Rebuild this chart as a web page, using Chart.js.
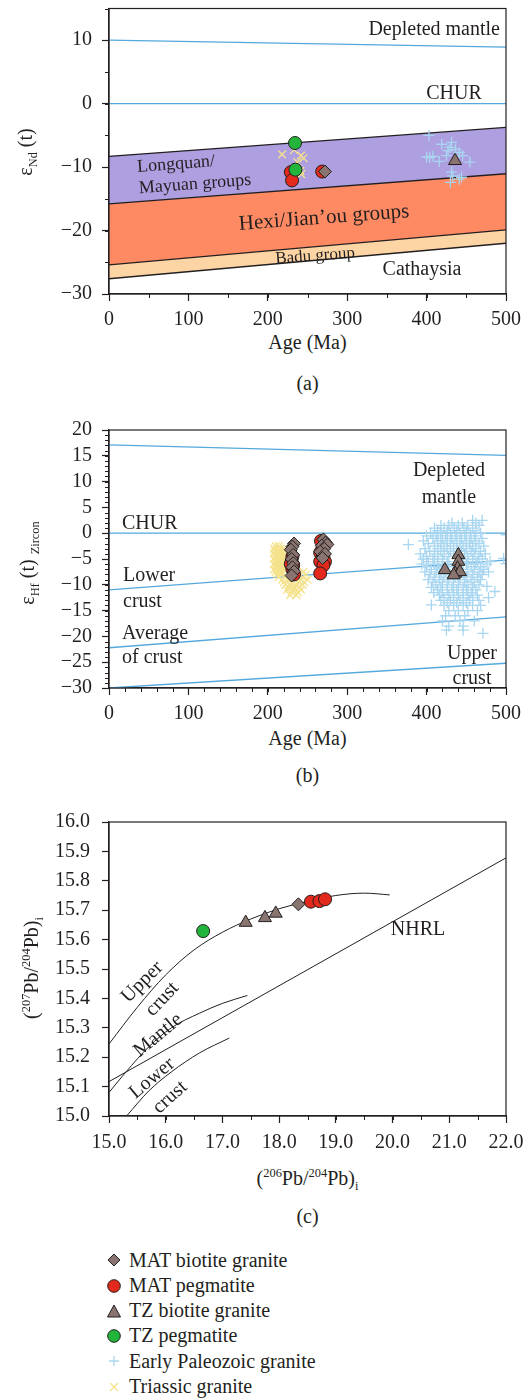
<!DOCTYPE html>
<html>
<head>
<meta charset="utf-8">
<script src="https://cdn.jsdelivr.net/npm/chart.js@4.4.1/dist/chart.umd.min.js"></script>
<style>
  body { margin: 0; background: #fff; }
  #page { position: relative; width: 526px; height: 1399px; overflow: hidden;
          font-family: "Liberation Serif", "Times New Roman", serif; color: #231f20; }
  canvas { position: absolute; left: 0; }
  .t { position: absolute; white-space: nowrap; font-size: 20px; line-height: 1; }
  .c { transform: translate(-50%, -50%); }
  .l { transform: translate(0, -50%); }
  .r { transform: translate(-100%, -50%); }
  sub, sup { font-size: 62%; line-height: 0; }
  .leg { position: absolute; left: 106px; height: 24px; display: flex; align-items: center;
         font-size: 20px; white-space: nowrap; }
  .leg svg { width: 16px; height: 16px; margin-right: 7px; }
</style>
</head>
<body>
<div id="page">
  <canvas id="chartA" width="526" height="330" style="top:0"></canvas>
  <canvas id="chartB" width="526" height="300" style="top:420px"></canvas>
  <canvas id="chartC" width="526" height="360" style="top:800px"></canvas>

  <!-- panel (a) -->
  <div class="t r" style="left:500px;top:28px">Depleted mantle</div>
  <div class="t c" style="left:454px;top:92px">CHUR</div>
  <div class="t c" style="left:176px;top:163px;font-size:18px;transform:translate(-50%,-50%) rotate(-4.3deg)">Longquan/</div>
  <div class="t c" style="left:195px;top:183px;font-size:18px;transform:translate(-50%,-50%) rotate(-4.3deg)">Mayuan groups</div>
  <div class="t c" style="left:324px;top:217px;font-size:21px;transform:translate(-50%,-50%) rotate(-4.3deg)">Hexi/Jian’ou groups</div>
  <div class="t c" style="left:315px;top:255px;font-size:17px;transform:translate(-50%,-50%) rotate(-4.3deg)">Badu group</div>
  <div class="t c" style="left:422px;top:268px">Cathaysia</div>
  <div class="t c" style="left:25px;top:152px;transform:translate(-50%,-50%) rotate(-90deg)">ε<sub>Nd</sub> (t)</div>
  <div class="t c" style="left:307.5px;top:342px">Age (Ma)</div>
  <div class="t c" style="left:307.5px;top:383px">(a)</div>

  <!-- panel (b) -->
  <div class="t c" style="left:449px;top:469px">Depleted</div>
  <div class="t c" style="left:449px;top:496px">mantle</div>
  <div class="t l" style="left:122px;top:522px">CHUR</div>
  <div class="t l" style="left:123px;top:574px">Lower</div>
  <div class="t l" style="left:123px;top:600px">crust</div>
  <div class="t l" style="left:122px;top:632px">Average</div>
  <div class="t l" style="left:122px;top:656px">of crust</div>
  <div class="t c" style="left:472px;top:652px">Upper</div>
  <div class="t c" style="left:472px;top:677px">crust</div>
  <div class="t c" style="left:27px;top:563px;transform:translate(-50%,-50%) rotate(-90deg)">ε<sub>Hf</sub> (t) <sub>Zircon</sub></div>
  <div class="t c" style="left:307.5px;top:738px">Age (Ma)</div>
  <div class="t c" style="left:307.5px;top:775px">(b)</div>

  <!-- panel (c) -->
  <div class="t c" style="left:418px;top:928px">NHRL</div>
  <div class="t c" style="left:141px;top:981px;transform:translate(-50%,-50%) rotate(-45deg)">Upper</div>
  <div class="t c" style="left:161px;top:998px;transform:translate(-50%,-50%) rotate(-47deg)">crust</div>
  <div class="t c" style="left:157px;top:1034px;transform:translate(-50%,-50%) rotate(-40deg)">Mantle</div>
  <div class="t c" style="left:151px;top:1077px;transform:translate(-50%,-50%) rotate(-40deg)">Lower</div>
  <div class="t c" style="left:169px;top:1096px;transform:translate(-50%,-50%) rotate(-42deg)">crust</div>
  <div class="t c" style="left:31px;top:968px;transform:translate(-50%,-50%) rotate(-90deg)">(<sup>207</sup>Pb/<sup>204</sup>Pb)<sub>i</sub></div>
  <div class="t c" style="left:307.5px;top:1178px">(<sup>206</sup>Pb/<sup>204</sup>Pb)<sub>i</sub></div>
  <div class="t c" style="left:307.5px;top:1216px">(c)</div>

  <!-- shared legend -->
  <div class="leg" style="top:1248px"><svg viewBox="0 0 16 16"><polygon points="8,2 14,8 8,14 2,8" fill="#8a7470" stroke="#231f20"/></svg>MAT biotite granite</div>
  <div class="leg" style="top:1273.7px"><svg viewBox="0 0 16 16"><circle cx="8" cy="8" r="6.3" fill="#e2291b" stroke="#231f20"/></svg>MAT pegmatite</div>
  <div class="leg" style="top:1298.7px"><svg viewBox="0 0 16 16"><polygon points="8,2 14.5,14 1.5,14" fill="#8a7470" stroke="#231f20"/></svg>TZ biotite granite</div>
  <div class="leg" style="top:1323.7px"><svg viewBox="0 0 16 16"><circle cx="8" cy="8" r="6.3" fill="#23b43c" stroke="#231f20"/></svg>TZ pegmatite</div>
  <div class="leg" style="top:1349.3px"><svg viewBox="0 0 16 16"><path d="M8 3V13M3 8H13" stroke="#a8d6f0" stroke-width="1.3"/></svg>Early Paleozoic granite</div>
  <div class="leg" style="top:1374.7px"><svg viewBox="0 0 16 16"><path d="M4 4L12 12M12 4L4 12" stroke="#f5e28c" stroke-width="1.3"/></svg>Triassic granite</div>
</div>

<script>
  // ---- panel (a): eNd(t) vs age ----
  const ageEnds = [0, 500];
  const ndDepleted = [10, 8.9];
  const ndChur = [0, 0];
  const ndLongquanTop = [-8.3, -3.75];
  const ndHexiTop = [-15.8, -11.05];
  const ndBaduTop = [-25.4, -19.9];
  const ndBaduBase = [-27.6, -22.0];
  const ndXTicks = [0, 100, 200, 300, 400, 500];
  const ndYTicks = [-30, -20, -10, 0, 10];

  const ndMatBiotite = [[272, -10.7]];
  const ndMatPeg = [[229, -10.8], [230.5, -12.1], [268.5, -10.7]];
  const ndTzBiotite = [[435.8, -9.0]];
  const ndTzPeg = [[234.3, -6.2], [234.8, -10.4]];
  const ndPaleozoic = [[403, -5.0], [400, -8.4], [404, -8.5], [408, -8.3], [416, -9.1], [419, -6.4],
    [425, -8.2], [427, -7.4], [429.5, -6.9], [431.5, -6.1], [436.5, -7.2], [441, -7.7], [445.4, -8.2],
    [454.5, -9.2], [431.5, -10.8], [433, -11.4], [430, -12.4], [441, -11.9], [444, -11.6]];
  const ndTriassic = [[218, -8.0], [234, -6.3], [233, -7.3], [241.8, -8.2], [245, -8.6], [237, -9.2],
    [241, -10.6], [242, -11.1]];

  // ---- panel (b): eHf(t) zircon vs age ----
  const hfDepleted = [17.1, 15.1];
  const hfChur = [0, 0];
  const hfLowerCrust = [-11, -5.2];
  const hfAvgCrust = [-22.2, -16.2];
  const hfUpperCrust = [-30, -25.2];
  const hfXTicks = [0, 100, 200, 300, 400, 500];
  const hfYTicks = [-30, -25, -20, -15, -10, -5, 0, 5, 10, 15, 20];

  const hfMatBiotite = [[233, -2.0], [231, -2.6], [229, -3.2], [232, -4.2], [230, -5.0], [232, -5.8],
    [231, -6.6], [233, -7.4], [230, -8.2], [270, -1.2], [273, -1.8], [268, -2.4], [275, -2.2],
    [271, -3.0], [266, -3.6], [272, -4.0], [269, -4.8]];
  const hfMatPeg = [[231, -4.5], [230, -5.5], [232, -6.2], [231, -7.0], [233, -8.0], [229, -6.0],
    [267, -1.5], [269, -2.8], [266, -3.8], [270, -4.5], [268, -5.0], [272, -5.5], [266, -5.5],
    [270, -6.2], [266, -7.8]];
  const hfTzBiotite = [[423, -7.1], [440, -4.2], [440, -5.5], [439, -6.8], [436, -7.8], [442, -7.5], [434, -8.1]];
  const hfTriassic = [
    [210, -2.5], [214, -2.5], [208, -3], [212, -3], [216, -3], [220, -3],
    [209, -3.5], [213, -3.5], [217, -3.5], [222, -3.5], [208, -4], [212, -4], [216, -4], [220, -4],
    [210, -4.5], [214, -4.5], [218, -4.5], [222, -4.5], [208, -5], [212, -5], [216, -5], [220, -5],
    [210, -5.5], [214, -5.5], [218, -5.5], [208, -6], [212, -6], [216, -6], [220, -6],
    [210, -6.5], [214, -6.5], [218, -6.5], [222, -6.5], [208, -7], [212, -7], [216, -7], [220, -7],
    [210, -7.5], [214, -7.5], [218, -7.5], [245, -7.5], [212, -8], [216, -8], [240, -8], [248, -8],
    [214, -8.5], [222, -8.5], [236, -8.5], [244, -8.5], [218, -9], [226, -9], [234, -9], [242, -9], [250, -9],
    [220, -9.5], [230, -9.5], [238, -9.5], [246, -9.5], [222, -10], [228, -10], [236, -10], [244, -10],
    [226, -10.5], [234, -10.5], [240, -10.5], [224, -11], [232, -11], [242, -11],
    [230, -11.5], [238, -11.5], [228, -12], [236, -12]];
  const hfPaleozoic = [
    [458, 2.5], [470, 2.5], [432, 2], [445, 2], [462, 2],
    [418, 1.5], [428, 1.5], [440, 1.5], [452, 1.5], [466, 1.5],
    [410, 1], [422, 1], [435, 1], [447, 1], [458, 1],
    [414, 0.5], [426, 0.5], [438, 0.5], [450, 0.5], [462, 0.5],
    [405, 0], [418, 0], [430, 0], [442, 0], [455, 0], [468, 0], [500, -0.3],
    [400, -0.5], [412, -0.5], [424, -0.5], [436, -0.5], [448, -0.5], [460, -0.5],
    [408, -1], [420, -1], [432, -1], [444, -1], [456, -1], [470, -1],
    [396, -1.5], [414, -1.5], [426, -1.5], [438, -1.5], [450, -1.5], [462, -1.5],
    [377, -2.2], [402, -2], [418, -2], [430, -2], [442, -2], [454, -2], [466, -2],
    [410, -2.5], [422, -2.5], [434, -2.5], [446, -2.5], [458, -2.5], [472, -2.5],
    [398, -3], [414, -3], [426, -3], [438, -3], [450, -3], [462, -3],
    [404, -3.5], [418, -3.5], [430, -3.5], [444, -3.5], [456, -3.5], [468, -3.5],
    [392, -4], [410, -4], [422, -4], [434, -4], [448, -4], [460, -4], [474, -4],
    [400, -4.5], [414, -4.5], [428, -4.5], [440, -4.5], [452, -4.5], [466, -4.5], [497, -4.9],
    [396, -5], [408, -5], [420, -5], [446, -5], [458, -5], [470, -5],
    [402, -5.5], [414, -5.5], [426, -5.5], [452, -5.5], [464, -5.5], [480, -5.5], [500, -5.9],
    [394, -6], [410, -6], [420, -6], [450, -6], [462, -6], [476, -6],
    [400, -6.5], [414, -6.5], [428, -6.5], [456, -6.5], [468, -6.5],
    [406, -7], [416, -7], [446, -7], [460, -7], [472, -7],
    [398, -7.5], [412, -7.5], [424, -7.5], [452, -7.5], [466, -7.5], [478, -7.5],
    [404, -8], [418, -8], [430, -8], [446, -8], [458, -8], [470, -8],
    [410, -8.5], [422, -8.5], [436, -8.5], [450, -8.5], [464, -8.5],
    [402, -9], [416, -9], [428, -9], [442, -9], [456, -9], [468, -9],
    [408, -9.5], [420, -9.5], [434, -9.5], [448, -9.5], [460, -9.5],
    [412, -10], [426, -10], [440, -10], [452, -10], [466, -10], [476, -10.3],
    [406, -10.5], [418, -10.5], [432, -10.5], [446, -10.5], [458, -10.5],
    [414, -11], [426, -11], [438, -11], [450, -11], [462, -11], [486, -11.3],
    [409, -11.5], [420, -11.5], [434, -11.5], [446, -11.5], [456, -11.5], [478, -12.5],
    [416, -12], [428, -12], [440, -12], [452, -12], [464, -12],
    [422, -12.5], [434, -12.5], [446, -12.5], [458, -12.5],
    [418, -13], [430, -13], [442, -13], [454, -13], [466, -13],
    [406, -13.9], [426, -13.5], [438, -13.5], [450, -13.5],
    [422, -14], [434, -14], [446, -14], [458, -14], [468, -14],
    [428, -15], [440, -15], [452, -15], [464, -15],
    [424, -16], [436, -16], [448, -16],
    [420, -17], [442, -17], [460, -17],
    [428, -18], [446, -18],
    [425, -18.8], [446, -18.8], [471, -19.4]];

  // ---- panel (c): 207Pb/204Pb vs 206Pb/204Pb ----
  const pbNhrlX = [15, 22];
  const pbNhrlY = [15.117, 15.878];
  const pbUpperX = [15.0, 15.5, 16.0, 16.5, 17.0, 17.5, 18.0, 18.5, 19.0, 19.5, 19.95];
  const pbUpperY = [15.245, 15.37, 15.48, 15.565, 15.625, 15.67, 15.705, 15.73, 15.75, 15.758, 15.752];
  const pbMantleX = [15.0, 15.3, 15.7, 16.1, 16.6, 17.0, 17.44];
  const pbMantleY = [15.08, 15.15, 15.235, 15.3, 15.35, 15.383, 15.41];
  const pbLowerX = [15.31, 15.7, 16.1, 16.6, 17.12];
  const pbLowerY = [15.0, 15.085, 15.15, 15.215, 15.265];
  const pbXTicks = [15, 16, 17, 18, 19, 20, 21, 22];
  const pbYTicks = [15.0, 15.1, 15.2, 15.3, 15.4, 15.5, 15.6, 15.7, 15.8, 15.9, 16.0];

  const pbMatBiotite = [[18.34, 15.72]];
  const pbMatPeg = [[18.56, 15.729], [18.71, 15.731], [18.81, 15.737]];
  const pbTzBiotite = [[17.41, 15.658], [17.75, 15.674], [17.94, 15.689]];
  const pbTzPeg = [[16.66, 15.629]];

  // ---- styling ----
  const INK = '#231f20';
  const BLUE = '#55a8dc';
  const SKY = '#a8d6f0';
  const STRAW = '#f5e28c';
  const BROWN = '#8a7470';
  const RED = '#e2291b';
  const GREEN = '#23b43c';

  Chart.defaults.font.family = '"Liberation Serif", "Times New Roman", serif';
  Chart.defaults.font.size = 20;
  Chart.defaults.color = INK;

  const toXY = (xs, ys) => xs.map((x, i) => ({ x: x, y: ys[i] }));
  const pairs = arr => arr.map(p => ({ x: p[0], y: p[1] }));

  function lineSet(xs, ys, color, extra) {
    return Object.assign({
      type: 'line', data: toXY(xs, ys), borderColor: color, borderWidth: 1.3,
      pointRadius: 0, fill: false, tension: 0
    }, extra || {});
  }

  function markSet(arr, style, fill, radius) {
    return {
      type: 'scatter', data: pairs(arr), pointStyle: style, backgroundColor: fill,
      borderColor: INK, borderWidth: 1, pointRadius: radius, pointHoverRadius: radius
    };
  }

  function crossSet(arr, style, color, radius) {
    return {
      type: 'scatter', data: pairs(arr), pointStyle: style, backgroundColor: color,
      borderColor: color, borderWidth: 1.3, pointRadius: radius, pointHoverRadius: radius
    };
  }

  const minus = v => (v < 0 ? '\u2212' + Math.abs(v) : String(v));

  function axis(min, max, ticks, fmt, pad, fitSize, vertical) {
    return {
      type: 'linear', min: min, max: max,
      afterBuildTicks: s => { s.ticks = ticks.map(v => ({ value: v })); },
      afterFit: s => {
        if (vertical) { s.width = fitSize; s.paddingTop = 0; s.paddingBottom = 0; }
        else { s.height = fitSize; s.paddingLeft = 0; s.paddingRight = 0; }
      },
      ticks: { callback: fmt, padding: pad, autoSkip: false, maxRotation: 0, color: INK },
      grid: { drawOnChartArea: false, drawTicks: true, tickLength: 7, tickColor: INK, tickWidth: 1.2 },
      border: { color: INK, width: 1.3 }
    };
  }

  // box round the plot plus the short minor ticks
  const frameTicks = {
    id: 'frameTicks',
    afterDraw(chart, args, o) {
      const ctx = chart.ctx, a = chart.chartArea, xs = chart.scales.x, ys = chart.scales.y;
      ctx.save();
      ctx.strokeStyle = INK;
      ctx.lineWidth = 1.2;
      ctx.strokeRect(a.left, a.top, a.right - a.left, a.bottom - a.top);
      ctx.lineWidth = 1;
      ctx.beginPath();
      for (let v = xs.min; v <= xs.max + 1e-9; v += o.xMinor) {
        const p = Math.round(xs.getPixelForValue(v)) + 0.5;
        ctx.moveTo(p, a.bottom); ctx.lineTo(p, a.bottom + o.len);
      }
      if (o.yMinor) {
        for (let v = ys.min; v <= ys.max + 1e-9; v += o.yMinor) {
          const p = Math.round(ys.getPixelForValue(v)) + 0.5;
          ctx.moveTo(a.left, p); ctx.lineTo(a.left - o.len, p);
        }
      }
      ctx.stroke();
      ctx.restore();
    }
  };

  function baseOptions(xAxis, yAxis, padTop, minor) {
    return {
      responsive: false, animation: false, devicePixelRatio: 1,
      layout: { padding: { top: padTop, right: 20, left: 0, bottom: 0 } },
      scales: { x: xAxis, y: yAxis },
      plugins: {
        legend: { display: false }, tooltip: { enabled: false },
        filler: { drawTime: 'beforeDatasetsDraw' },
        frameTicks: minor
      }
    };
  }

  // panel (a)
  new Chart(document.getElementById('chartA'), {
    type: 'scatter',
    data: {
      datasets: [
        markSet(ndTzPeg, 'circle', GREEN, 6.5),
        markSet(ndMatBiotite, 'rectRot', BROWN, 6.5),
        markSet(ndTzBiotite, 'triangle', BROWN, 7.5),
        markSet(ndMatPeg, 'circle', RED, 6.5),
        crossSet(ndTriassic, 'crossRot', STRAW, 5.5),
        crossSet(ndPaleozoic, 'cross', SKY, 5.5),
        lineSet(ageEnds, ndDepleted, BLUE),
        lineSet(ageEnds, ndChur, BLUE),
        lineSet(ageEnds, ndLongquanTop, INK, { fill: '+1', backgroundColor: '#ae9fe0' }),
        lineSet(ageEnds, ndHexiTop, INK, { fill: '+1', backgroundColor: '#fd8a63' }),
        lineSet(ageEnds, ndBaduTop, INK, { fill: '+1', backgroundColor: '#fdd5a5' }),
        lineSet(ageEnds, ndBaduBase, INK)
      ]
    },
    options: baseOptions(
      axis(0, 500, ndXTicks, v => String(v), 7, 36, false),
      axis(-30, 15, ndYTicks, minus, 10, 109, true),
      7, { xMinor: 50, yMinor: 5, len: 4 })
  , plugins: [frameTicks] });

  // panel (b)
  new Chart(document.getElementById('chartB'), {
    type: 'scatter',
    data: {
      datasets: [
        markSet(hfTzBiotite, 'triangle', BROWN, 7.5),
        markSet(hfMatBiotite, 'rectRot', BROWN, 6.5),
        markSet(hfMatPeg, 'circle', RED, 6.5),
        crossSet(hfTriassic, 'crossRot', STRAW, 5.5),
        crossSet(hfPaleozoic, 'cross', SKY, 5.5),
        lineSet(ageEnds, hfDepleted, BLUE),
        lineSet(ageEnds, hfChur, BLUE),
        lineSet(ageEnds, hfLowerCrust, BLUE),
        lineSet(ageEnds, hfAvgCrust, BLUE),
        lineSet(ageEnds, hfUpperCrust, BLUE)
      ]
    },
    options: baseOptions(
      axis(0, 500, hfXTicks, v => String(v), 7, 32, false),
      axis(-30, 20, hfYTicks, minus, 10, 109, true),
      10, { xMinor: 20, yMinor: 1, len: 4 })
  , plugins: [frameTicks] });

  // panel (c)
  new Chart(document.getElementById('chartC'), {
    type: 'scatter',
    data: {
      datasets: [
        markSet(pbMatPeg, 'circle', RED, 6.5),
        markSet(pbMatBiotite, 'rectRot', BROWN, 6.5),
        markSet(pbTzBiotite, 'triangle', BROWN, 7.5),
        markSet(pbTzPeg, 'circle', GREEN, 6.5),
        lineSet(pbNhrlX, pbNhrlY, INK, { borderWidth: 1 }),
        lineSet(pbUpperX, pbUpperY, INK, { borderWidth: 1, cubicInterpolationMode: 'monotone' }),
        lineSet(pbMantleX, pbMantleY, INK, { borderWidth: 1, cubicInterpolationMode: 'monotone' }),
        lineSet(pbLowerX, pbLowerY, INK, { borderWidth: 1, cubicInterpolationMode: 'monotone' })
      ]
    },
    options: baseOptions(
      axis(15, 22, pbXTicks, v => v.toFixed(1), 8, 44, false),
      axis(15, 16, pbYTicks, v => v.toFixed(1), 12, 109, true),
      22, { xMinor: 0.5, yMinor: 0, len: 4 })
  , plugins: [frameTicks] });
</script>
</body>
</html>
